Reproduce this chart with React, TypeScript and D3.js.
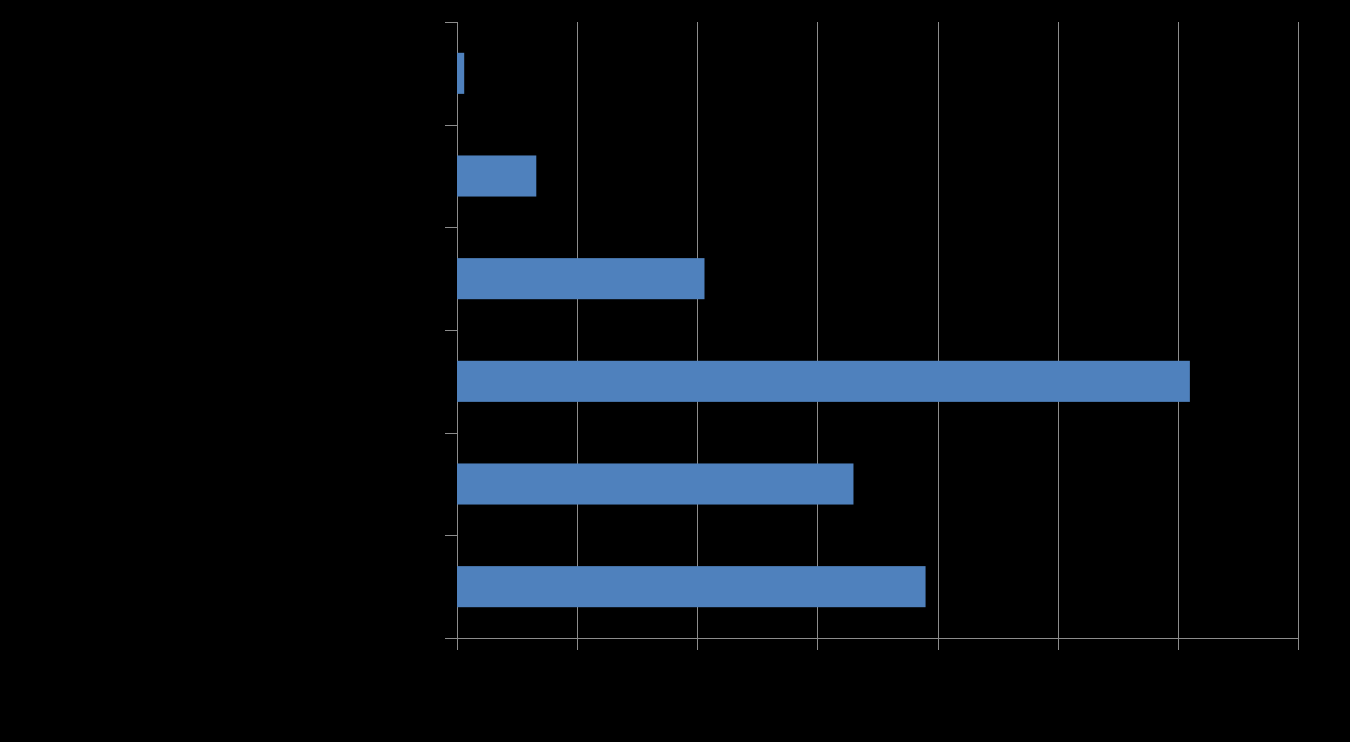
import React from "react";
import * as d3 from "d3";

const categories = ["A", "B", "C", "D", "E", "F"];
const values = [0.06, 0.66, 2.06, 6.1, 3.3, 3.9];
const xTicks = [0, 1, 2, 3, 4, 5, 6, 7];

export default function App() {
  const W = 1350, H = 742;
  const left = 457, right = 1298, top = 22, bottom = 638;
  const x = d3.scaleLinear().domain([0, 7]).range([left, right]);
  const y = d3.scaleBand<string>().domain(categories).range([top, bottom]).padding(0);
  const bh = y.bandwidth() * 0.4;
  const grid = "#8c8c8c";
  const bandEdges = categories.map((c) => y(c)!).concat([bottom]);
  return (
    <div style={{ position: "fixed", left: 0, top: 0, width: W, height: H, background: "#000" }}>
      <svg width={W} height={H} style={{ display: "block" }}>
        <rect width={W} height={H} fill="#000" />
        {xTicks.map((t) => (
          <line key={t} x1={Math.round(x(t)) + 0.5} x2={Math.round(x(t)) + 0.5} y1={top} y2={bottom + 12} stroke={grid} strokeWidth={1} />
        ))}
        <line x1={445} x2={right} y1={bottom + 0.5} y2={bottom + 0.5} stroke={grid} />
        {bandEdges.map((e, i) => (
          <line key={i} x1={445} x2={left} y1={Math.round(e) + 0.5} y2={Math.round(e) + 0.5} stroke={grid} />
        ))}
        {categories.map((c, i) => (
          <rect key={c} x={x(0)} y={y(c)! + y.bandwidth() / 2 - bh / 2} width={x(values[i]) - x(0)} height={bh} fill="#4f81bd" />
        ))}
      </svg>
    </div>
  );
}
